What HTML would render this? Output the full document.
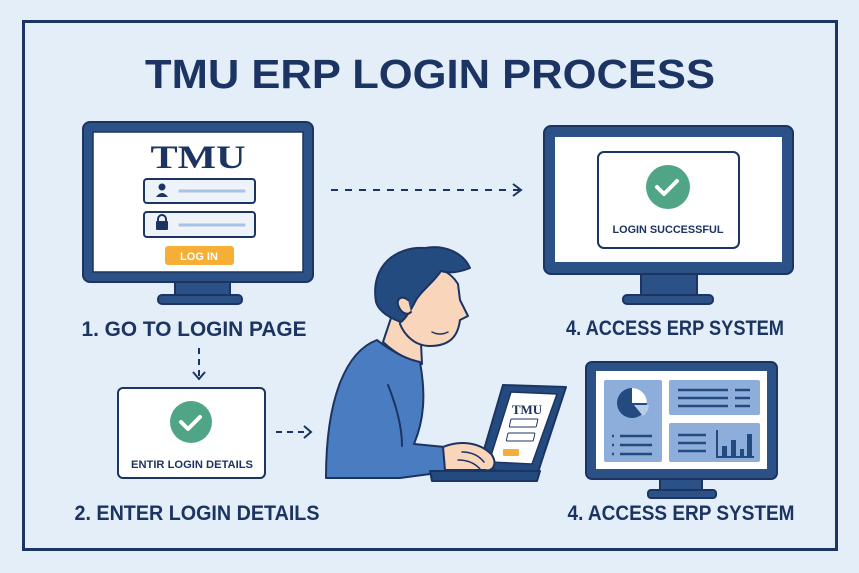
<!DOCTYPE html>
<html><head><meta charset="utf-8"><style>
html,body{margin:0;padding:0;background:#e3eef9;}
svg{display:block;}
text{font-family:"Liberation Sans",sans-serif;font-weight:bold;fill:#1c3461;}
</style></head><body>
<svg width="859" height="573" viewBox="0 0 859 573" xmlns="http://www.w3.org/2000/svg">
<rect x="0" y="0" width="859" height="573" fill="#e3eef9"/>
<rect x="23.5" y="21.5" width="813" height="528" fill="none" stroke="#1c3461" stroke-width="3"/>
<text x="430" y="88" font-size="41" text-anchor="middle" textLength="570" lengthAdjust="spacingAndGlyphs">TMU ERP LOGIN PROCESS</text>

<!-- Monitor 1 -->
<rect x="175" y="280" width="55" height="17" fill="#2b5186" stroke="#1c3461" stroke-width="2"/>
<rect x="158" y="295" width="84" height="9" rx="4" fill="#2b5186" stroke="#1c3461" stroke-width="2"/>
<rect x="83" y="122" width="230" height="160" rx="7" fill="#2b5186" stroke="#1c3461" stroke-width="2"/>
<rect x="93" y="132" width="210" height="140" fill="#fff" stroke="#1c3461" stroke-width="1.5"/>
<text x="198" y="168" font-size="33" text-anchor="middle" style="font-family:'Liberation Serif',serif" textLength="95" lengthAdjust="spacingAndGlyphs">TMU</text>
<rect x="144" y="179" width="111" height="24" rx="3" fill="#eef3fa" stroke="#1c3461" stroke-width="2"/>
<circle cx="162" cy="187" r="3.5" fill="#1c3461"/><path d="M156 197 q6 -8 12 0 z" fill="#1c3461"/>
<line x1="180" y1="191" x2="244" y2="191" stroke="#a9c3e4" stroke-width="3" stroke-linecap="round"/>
<rect x="144" y="212" width="111" height="25" rx="3" fill="#eef3fa" stroke="#1c3461" stroke-width="2"/>
<rect x="156" y="221" width="12" height="9" rx="1" fill="#1c3461"/><path d="M158 222 v-3 a4 4 0 0 1 8 0 v3" fill="none" stroke="#1c3461" stroke-width="2"/>
<line x1="180" y1="225" x2="244" y2="225" stroke="#a9c3e4" stroke-width="3" stroke-linecap="round"/>
<rect x="165" y="246" width="69" height="19" rx="3" fill="#f5ae36"/>
<text x="199" y="260" font-size="11" text-anchor="middle" style="fill:#fff">LOG IN</text>
<text x="194" y="336" font-size="21" text-anchor="middle" textLength="225" lengthAdjust="spacingAndGlyphs">1. GO TO LOGIN PAGE</text>

<!-- dashed arrow top -->
<line x1="331" y1="190" x2="520" y2="190" stroke="#1c3461" stroke-width="2" stroke-dasharray="7,7"/>
<path d="M513 184 l8 6 l-8 6" fill="none" stroke="#1c3461" stroke-width="2"/>

<!-- Monitor 2 -->
<rect x="641" y="272" width="56" height="24" fill="#2b5186" stroke="#1c3461" stroke-width="2"/>
<rect x="623" y="295" width="90" height="9" rx="4" fill="#2b5186" stroke="#1c3461" stroke-width="2"/>
<rect x="544" y="126" width="249" height="148" rx="7" fill="#2b5186" stroke="#1c3461" stroke-width="2"/>
<rect x="555" y="137" width="227" height="125" fill="#fff"/>
<rect x="598" y="152" width="141" height="96" rx="6" fill="#fff" stroke="#1c3461" stroke-width="2"/>
<circle cx="668" cy="187" r="22" fill="#4fa586"/>
<path d="M657 187 l7 7 l13 -13" fill="none" stroke="#fff" stroke-width="4" stroke-linecap="round" stroke-linejoin="round"/>
<text x="668" y="233" font-size="11" text-anchor="middle" textLength="111" lengthAdjust="spacingAndGlyphs">LOGIN SUCCESSFUL</text>
<text x="675" y="335" font-size="21" text-anchor="middle" textLength="218" lengthAdjust="spacingAndGlyphs">4. ACCESS ERP SYSTEM</text>

<!-- down arrow -->
<line x1="199" y1="348" x2="199" y2="378" stroke="#1c3461" stroke-width="2" stroke-dasharray="6,5"/>
<path d="M193 372 l6 7 l6 -7" fill="none" stroke="#1c3461" stroke-width="2"/>

<!-- card 2 -->
<rect x="118" y="388" width="147" height="90" rx="5" fill="#fff" stroke="#1c3461" stroke-width="2"/>
<circle cx="191" cy="422" r="21" fill="#4fa586"/>
<path d="M181 422 l7 7 l12 -12" fill="none" stroke="#fff" stroke-width="4" stroke-linecap="round" stroke-linejoin="round"/>
<text x="192" y="468" font-size="11" text-anchor="middle" textLength="122" lengthAdjust="spacingAndGlyphs">ENTIR LOGIN DETAILS</text>
<line x1="276" y1="432" x2="310" y2="432" stroke="#1c3461" stroke-width="2" stroke-dasharray="6,5"/>
<path d="M304 426 l7 6 l-7 6" fill="none" stroke="#1c3461" stroke-width="2"/>
<text x="197" y="520" font-size="21" text-anchor="middle" textLength="245" lengthAdjust="spacingAndGlyphs">2. ENTER LOGIN DETAILS</text>

<!-- Person -->
<g stroke="#1c3461" stroke-width="2" stroke-linejoin="round" stroke-linecap="round">
<path d="M392 315 L420 322 L422 364 Q400 358 383 342 Z" fill="#f9d5bb"/>
<path d="M377 340 Q400 358 420 362 C426 395 424 420 414 444 L445 447 L445 472 L400 478 L326 478 C326 400 345 352 377 340 Z" fill="#4a7cc1"/>
<path d="M388 385 C398 410 402 430 402 446" fill="none"/>
<path d="M396 290 C402 262 442 258 458 284 L460 300 L468 316 L460 320 C458 336 450 346 430 346 C414 346 404 334 400 324 Z" fill="#f9d5bb"/>
<path d="M376 302 C370 266 396 246 425 248 C446 244 464 254 470 268 C460 272 450 274 441 271 C432 284 422 290 416 300 C411 310 406 318 401 322 C390 318 379 312 376 302 Z" fill="#244b80"/>
<path d="M408 300 c-7 -6 -14 0 -8 9 c3 5 8 6 11 3" fill="#f9d5bb"/>
<path d="M432 332 q8 4 16 0" fill="none" stroke-width="1.5"/>
<path d="M503 385 L566 387 L538 472 L478 470 Z" fill="#244b80"/>
<path d="M511 392 L557 394 L532 464 L489 462 Z" fill="#fff" stroke-width="1.5"/>
<path d="M430 471 L540 471 L537 481 L432 481 Z" fill="#244b80"/>
<path d="M443 447 C460 440 480 442 492 455 C498 465 492 472 485 470 L445 470 Z" fill="#f9d5bb"/>
<path d="M462 452 q14 0 22 10 M458 460 q14 0 22 9" fill="none" stroke-width="1.5"/>
</g>
<text x="527" y="414" font-size="13" text-anchor="middle" style="font-family:'Liberation Serif',serif">TMU</text>
<rect x="512" y="419" width="27" height="8" rx="1" fill="#fff" stroke="#1c3461" stroke-width="1" transform="skewX(-12) translate(88 0)"/>
<rect x="508" y="433" width="27" height="8" rx="1" fill="#fff" stroke="#1c3461" stroke-width="1" transform="skewX(-12) translate(92 0)"/>
<rect x="503" y="449" width="16" height="7" rx="1" fill="#f5ae36"/>

<!-- Monitor 3 -->
<rect x="660" y="477" width="42" height="14" fill="#2b5186" stroke="#1c3461" stroke-width="2"/>
<rect x="648" y="490" width="68" height="8" rx="3" fill="#2b5186" stroke="#1c3461" stroke-width="2"/>
<rect x="586" y="362" width="191" height="117" rx="6" fill="#2b5186" stroke="#1c3461" stroke-width="2"/>
<rect x="596" y="371" width="171" height="98" fill="#fff"/>
<rect x="604" y="380" width="58" height="82" rx="2" fill="#8daedb"/>
<rect x="669" y="380" width="91" height="35" rx="2" fill="#8daedb"/>
<rect x="669" y="423" width="91" height="39" rx="2" fill="#8daedb"/>
<circle cx="632" cy="403" r="15" fill="#244b80"/>
<path d="M632 403 L632 388 A15 15 0 0 1 647 403 Z" fill="#fff"/>
<path d="M634 405 L649 405 A15 15 0 0 1 643 416 Z" fill="#b9cdeb"/>
<g stroke="#244b80" stroke-width="2.5">
<line x1="612" y1="436" x2="614" y2="436"/><line x1="620" y1="436" x2="652" y2="436"/>
<line x1="612" y1="445" x2="614" y2="445"/><line x1="620" y1="445" x2="652" y2="445"/>
<line x1="612" y1="454" x2="614" y2="454"/><line x1="620" y1="454" x2="652" y2="454"/>
<line x1="678" y1="390" x2="728" y2="390"/><line x1="735" y1="390" x2="750" y2="390"/>
<line x1="678" y1="398" x2="728" y2="398"/><line x1="735" y1="398" x2="750" y2="398"/>
<line x1="678" y1="406" x2="728" y2="406"/><line x1="735" y1="406" x2="750" y2="406"/>
<line x1="678" y1="435" x2="706" y2="435"/><line x1="678" y1="443" x2="706" y2="443"/><line x1="678" y1="451" x2="706" y2="451"/>
</g>
<path d="M717 430 V457 H754" fill="none" stroke="#244b80" stroke-width="2"/>
<rect x="722" y="446" width="5" height="10" fill="#244b80"/><rect x="731" y="440" width="5" height="16" fill="#244b80"/><rect x="740" y="449" width="4" height="7" fill="#244b80"/><rect x="747" y="434" width="5" height="22" fill="#244b80"/>
<text x="681" y="520" font-size="21" text-anchor="middle" textLength="227" lengthAdjust="spacingAndGlyphs">4. ACCESS ERP SYSTEM</text>
</svg>
</body></html>
